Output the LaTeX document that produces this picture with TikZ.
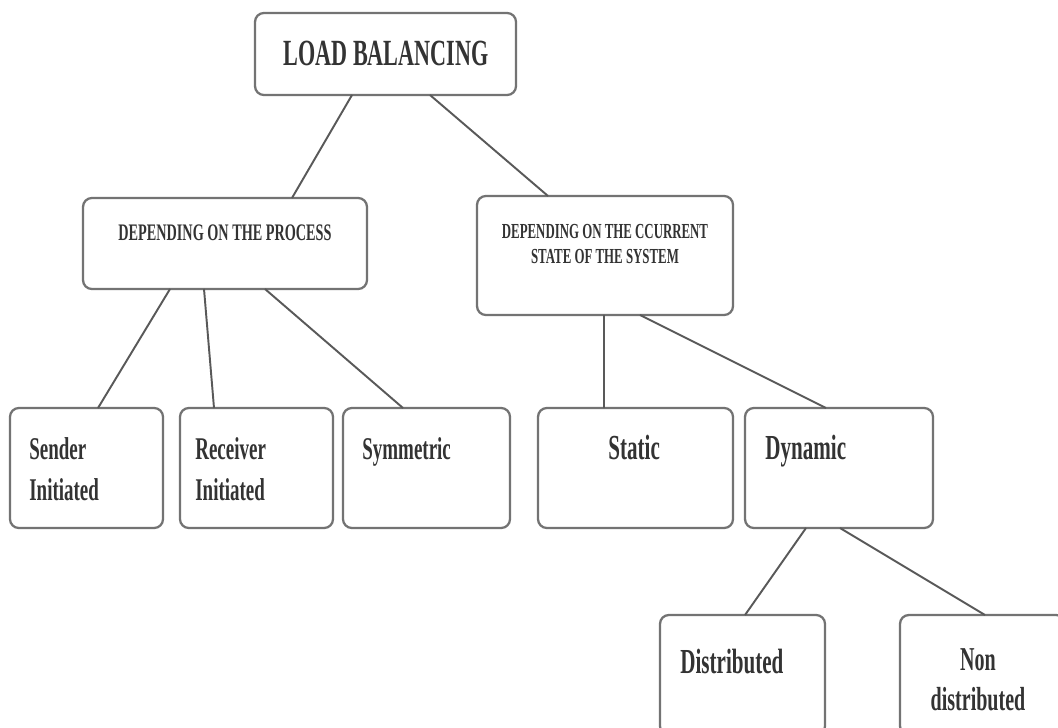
\documentclass[tikz,border=0pt]{standalone}
\usepackage{fontspec}
\newfontfamily\boxfont{Liberation Serif}[FakeStretch=0.6]
\usepackage{tikz}

\begin{document}
\begin{tikzpicture}[x=0.02cm, y=-0.02cm,
  box/.style={draw=black!55, line width=1.3pt, rounded corners=5pt, outer sep=0pt, inner sep=0pt},
  txt/.style={inner sep=0pt, text=black!80, font=\boxfont\bfseries},
  link/.style={draw=black!65, line width=1.1pt}]
\clip (0,0) rectangle (1058,727);
% boxes
\node [box, minimum width=5.22cm, minimum height=1.64cm] (lb) at (385.5,54) {};
\node [box, minimum width=5.68cm, minimum height=1.82cm] (proc) at (225,243.5) {};
\node [box, minimum width=5.12cm, minimum height=2.38cm] (state) at (605,255.5) {};
\node [box, minimum width=3.06cm, minimum height=2.4cm] (sender) at (86.5,468) {};
\node [box, minimum width=3.06cm, minimum height=2.4cm] (recv) at (256.5,468) {};
\node [box, minimum width=3.34cm, minimum height=2.4cm] (sym) at (426.5,468) {};
\node [box, minimum width=3.9cm, minimum height=2.4cm] (stat) at (635.5,468) {};
\node [box, minimum width=3.76cm, minimum height=2.4cm] (dyn) at (839,468) {};
\node [box, minimum width=3.3cm, minimum height=2.4cm] (dist) at (742.5,675) {};
\node [box, minimum width=3.3cm, minimum height=2.4cm] (nondist) at (982.5,675) {};
% texts
\node [txt, anchor=base, font=\boxfont\bfseries\fontsize{21}{24}\selectfont] (lbtxt) at (386,65) {LOAD BALANCING};
\node [txt, anchor=base, font=\boxfont\bfseries\fontsize{13.5}{15}\selectfont] (proctxt) at (225,240) {DEPENDING ON THE PROCESS};
\node [txt, anchor=center, align=center, font=\boxfont\bfseries\fontsize{12.2}{14.2}\selectfont] (statetxt) at (605,244) {DEPENDING ON THE CCURRENT\\STATE OF THE SYSTEM};
\node [txt, anchor=base west, align=left, font=\boxfont\bfseries\fontsize{18}{23.3}\selectfont] (sendertxt) at (29,500) {Sender\\Initiated};
\node [txt, anchor=base west, align=left, font=\boxfont\bfseries\fontsize{18}{23.3}\selectfont] (recvtxt) at (195,500) {Receiver\\Initiated};
\node [txt, anchor=base west, font=\boxfont\bfseries\fontsize{18}{23}\selectfont] (symtxt) at (362,459) {Symmetric};
\node [txt, anchor=base west, font=\boxfont\bfseries\fontsize{20}{24}\selectfont] (stattxt) at (608,459) {Static};
\node [txt, anchor=base west, font=\boxfont\bfseries\fontsize{20}{24}\selectfont] (dyntxt) at (765,459) {Dynamic};
\node [txt, anchor=base west, font=\boxfont\bfseries\fontsize{20}{24}\selectfont] (disttxt) at (680,673) {Distributed};
\node [txt, anchor=base, align=center, font=\boxfont\bfseries\fontsize{19}{22.7}\selectfont] (nondisttxt) at (978,710) {Non\\distributed};
% connectors
\draw [link] ([xshift=-0.67cm]lb.south) -- ([xshift=1.34cm]proc.north);
\draw [link] ([xshift=0.89cm]lb.south) -- ([xshift=-1.14cm]state.north);
\draw [link] ([xshift=-1.1cm]proc.south) -- ([xshift=0.23cm]sender.north);
\draw [link] ([xshift=-0.42cm]proc.south) -- ([xshift=-0.85cm]recv.north);
\draw [link] ([xshift=0.8cm]proc.south) -- ([xshift=-0.47cm]sym.north);
\draw [link] ([xshift=-0.02cm]state.south) -- ([xshift=-0.63cm]stat.north);
\draw [link] ([xshift=0.7cm]state.south) -- ([xshift=-0.26cm]dyn.north);
\draw [link] ([xshift=-0.66cm]dyn.south) -- ([xshift=0.05cm]dist.north);
\draw [link] ([xshift=0.02cm]dyn.south) -- ([xshift=0.05cm]nondist.north);
\end{tikzpicture}
\end{document}
